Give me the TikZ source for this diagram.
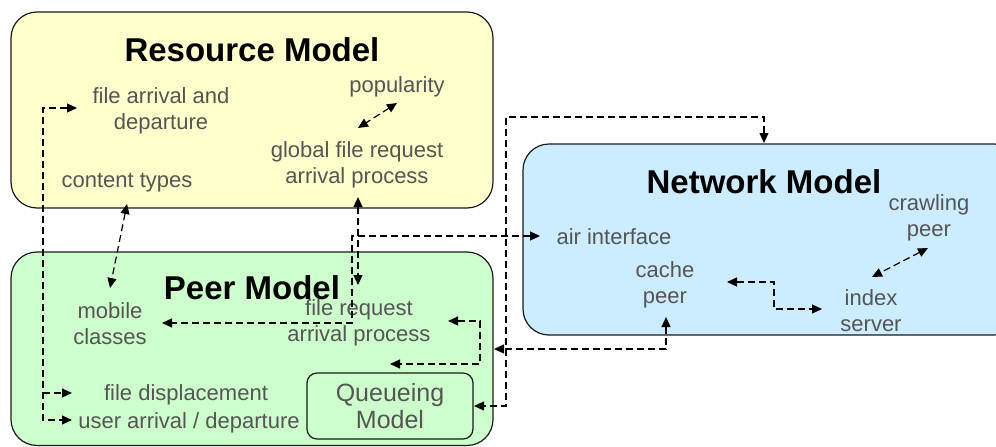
\documentclass[tikz,border=0pt]{standalone}
\usepackage{fontspec}
\setmainfont{Liberation Sans}
\usetikzlibrary{arrows.meta}
\definecolor{resfill}{HTML}{FFFFCC}
\definecolor{peerfill}{HTML}{CCFFCC}
\definecolor{netfill}{HTML}{CCECFF}
\definecolor{txtgray}{HTML}{555555}
\definecolor{edge}{HTML}{1A1A1A}
\tikzset{
  bigbox/.style={draw=edge, line width=1.2pt, rounded corners=26pt},
  qbox/.style={draw=edge, line width=1.2pt, rounded corners=10pt},
  title/.style={font=\fontsize{33}{38}\selectfont\bfseries, text=black, inner sep=0pt},
  lbl/.style={font=\fontsize{22}{26}\selectfont, text=txtgray, align=center, inner sep=0pt},
  qlbl/.style={font=\fontsize{25}{27}\selectfont, text=txtgray, align=center, inner sep=0pt},
  conn/.style={draw=black, line width=1.2pt, dash pattern=on 7pt off 4pt},
  tip/.style={-{Triangle[length=10pt,width=9pt]}},
  tips/.style={{Triangle[length=10pt,width=9pt]}-{Triangle[length=10pt,width=9pt]}},
}
\begin{document}
\begin{tikzpicture}[x=1pt,y=-1pt]
\useasboundingbox (0,0) rectangle (996,447);
\clip (0,0) rectangle (996,447);
% boxes
\draw[bigbox, fill=resfill] (11,12) rectangle (493,208);
\draw[bigbox, fill=peerfill] (11,252) rectangle (493,445.5);
\draw[bigbox, fill=netfill] (523,144) rectangle (1020,335);
\draw[qbox, fill=peerfill] (307,373) rectangle (473,439);
% titles
\node[title] (rtitle) at (252,50) {Resource Model};
\node[title] (ptitle) at (252,288) {Peer Model};
\node[title] (ntitle) at (764,182) {Network Model};
% labels
\node[lbl] (fad) at (161,111) {file arrival and\\departure};
\node[lbl] (pop) at (397,87) {popularity};
\node[lbl] (gfr) at (357,165) {global file request\\arrival process};
\node[lbl] (ct) at (127,183) {content types};
\node[lbl] (mc) at (110,324) {mobile\\classes};
\node[lbl] (fr) at (359,323) {file request\\arrival process};
\node[lbl] (fd) at (186,395) {file displacement};
\node[lbl] (ua) at (189,423) {user arrival / departure};
\node[qlbl] (qm) at (390,406) {Queueing\\Model};
\node[lbl] (cp) at (929,218) {crawling\\peer};
\node[lbl] (ai) at (614,237) {air interface};
\node[lbl] (cache) at (665,285) {cache\\peer};
\node[lbl] (idx) at (871,311) {index\\server};
% connector end points
\coordinate (fadIn) at (77,108);
\coordinate (busTop) at (43,108);
\coordinate (busMid) at (43,393);
\coordinate (busBot) at (43,420);
\coordinate (fdIn) at (72,393);
\coordinate (uaIn) at (72,420);
\coordinate (ctIn) at (127,204);
\coordinate (mcTop) at (110,288);
\coordinate (popIn) at (397,103);
\coordinate (gfrTop) at (358,128);
\coordinate (gfrIn) at (358,197);
\coordinate (frTop) at (358,285);
\coordinate (aiIn) at (540,236);
\coordinate (aiBend) at (352,236);
\coordinate (mcBend) at (352,323);
\coordinate (mcIn) at (162,323);
\coordinate (ntIn) at (764,143);
\coordinate (ntBend) at (764,117);
\coordinate (busR1) at (506,117);
\coordinate (busR2) at (506,406);
\coordinate (qmIn) at (474,406);
\coordinate (cacheIn) at (666,317);
\coordinate (cacheBend) at (666,349);
\coordinate (peerIn) at (494,349);
\coordinate (frIn) at (448,321);
\coordinate (frB1) at (480,321);
\coordinate (frB2) at (480,364);
\coordinate (qmTop) at (390,364);
\coordinate (cacheR) at (727,282);
\coordinate (cB1) at (774,282);
\coordinate (cB2) at (774,309);
\coordinate (idxIn) at (822,309);
\coordinate (cpIn) at (928,248);
\coordinate (idxTop) at (872,277);
% connectors
\draw[conn, tips] (fadIn) -- (busTop) -- (busBot) -- (uaIn);
\draw[conn, tip] (busMid) -- (fdIn);
\draw[conn, tips] (ctIn) -- (mcTop);
\draw[conn, tips] (popIn) -- (gfrTop);
\draw[conn, tips] (gfrIn) -- (frTop);
\draw[conn, tips] (aiIn) -- (aiBend) -- (mcBend) -- (mcIn);
\draw[conn, tips] (ntIn) -- (ntBend) -- (busR1) -- (busR2) -- (qmIn);
\draw[conn, tips] (cacheIn) -- (cacheBend) -- (peerIn);
\draw[conn, tips] (frIn) -- (frB1) -- (frB2) -- (qmTop);
\draw[conn, tips] (cacheR) -- (cB1) -- (cB2) -- (idxIn);
\draw[conn, tips] (cpIn) -- (idxTop);
\end{tikzpicture}
\end{document}
